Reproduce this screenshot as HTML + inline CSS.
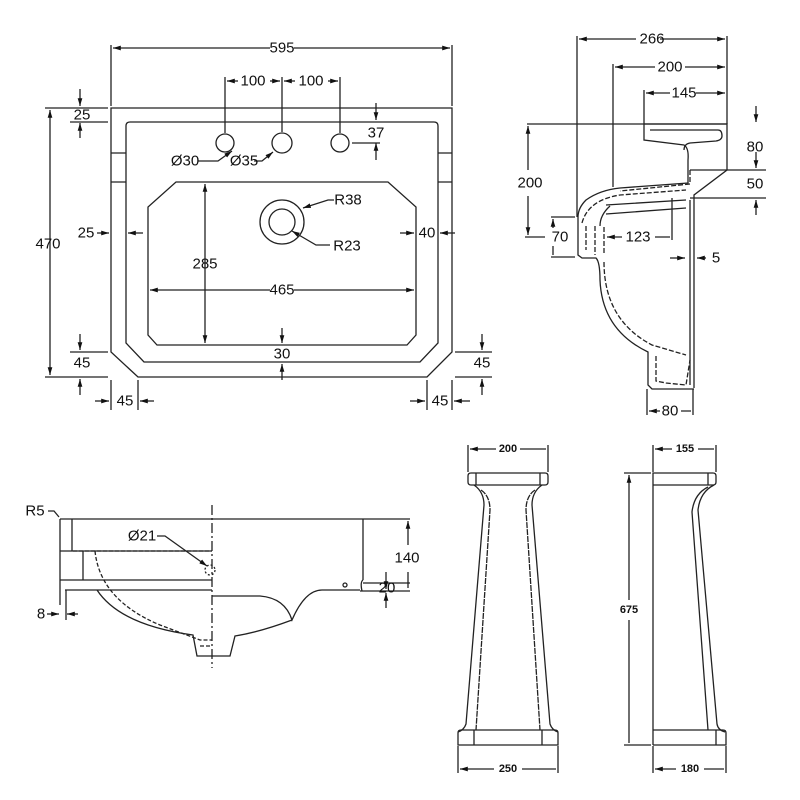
<!DOCTYPE html>
<html><head><style>
html,body{margin:0;padding:0;background:#fff}
svg{display:block}
text{font-family:"Liberation Sans",sans-serif;font-size:15px;fill:#111;text-anchor:middle;dominant-baseline:central}
.s{font-size:11px;font-weight:bold}
</style></head><body>
<svg width="800" height="800" viewBox="0 0 800 800" xmlns="http://www.w3.org/2000/svg">
<defs>
<marker id="a" viewBox="0 0 10 10" refX="10" refY="5" markerWidth="6" markerHeight="6" orient="auto-start-reverse"><path d="M0,2 L10,5 L0,8z" fill="#111"/></marker>
</defs>
<g fill="none" stroke="#222" stroke-width="1.3">
<path d="M111,108 H452 V352 L427,377 H138 L111,352 Z"/>
<path d="M130,122 H434 Q438,122 438,126 V343 L420,362 H144 L126,343 V126 Q126,122 130,122 Z"/>
<path d="M111,153 H126 M111,182 H126 M438,153 H452 M438,182 H452"/>
<path d="M176,182 H388 L416,207 V335 L407,345 H157 L148,335 V207 Z"/>
<circle cx="225" cy="143" r="9"/><circle cx="282" cy="143" r="10"/><circle cx="340" cy="143" r="9"/>
<circle cx="282" cy="222" r="22"/><circle cx="282" cy="222" r="13"/>
<path d="M111,45 V106 M452,45 V106"/>
<path d="M113,48 H270 M294,48 H450" marker-start="url(#a)" marker-end="url(#a)"/>
<path d="M225,77 V133 M282,77 V132 M340,77 V133"/>
<path d="M227,81 H238" marker-start="url(#a)"/>
<path d="M284,81 H295" marker-start="url(#a)"/><path d="M328,81 H338" marker-end="url(#a)"/><path d="M270,81 H280" marker-end="url(#a)"/>
<path d="M376,103 V120" marker-end="url(#a)"/><path d="M376,160 V143" marker-end="url(#a)"/><path d="M352,143 H380"/>
<path d="M232,151 L218,161 H198" marker-start="url(#a)"/>
<path d="M273,152 L262,161 H254" marker-start="url(#a)"/>
<path d="M80,89 V106" marker-end="url(#a)"/><path d="M80,138 V123" marker-end="url(#a)"/>
<path d="M45,108 H108 M70,122 H108"/>
<path d="M50,110 V375" marker-start="url(#a)" marker-end="url(#a)"/>
<path d="M45,377 H108"/>
<path d="M97,233 H109" marker-end="url(#a)"/><path d="M143,233 H128" marker-end="url(#a)"/>
<path d="M400,233 H414" marker-end="url(#a)"/><path d="M455,233 H440" marker-end="url(#a)"/>
<path d="M205,184 V343" marker-start="url(#a)" marker-end="url(#a)"/>
<path d="M150,290 H270 M294,290 H414" marker-start="url(#a)" marker-end="url(#a)"/>
<path d="M282,328 V343" marker-end="url(#a)"/><path d="M282,380 V364" marker-end="url(#a)"/>
<path d="M303,208 L328,200 H334" marker-start="url(#a)"/>
<path d="M292,231 L316,245 H330" marker-start="url(#a)"/>
<path d="M70,352 H108"/><path d="M80,334 V350" marker-end="url(#a)"/><path d="M80,395 V379" marker-end="url(#a)"/>
<path d="M455,352 H492 M455,377 H492"/><path d="M482,334 V350" marker-end="url(#a)"/><path d="M482,395 V379" marker-end="url(#a)"/>
<path d="M111,380 V410 M138,380 V410 M427,380 V410 M452,380 V410"/>
<path d="M95,401 H109" marker-end="url(#a)"/><path d="M154,401 H140" marker-end="url(#a)"/>
<path d="M410,401 H425" marker-end="url(#a)"/><path d="M470,401 H454" marker-end="url(#a)"/>

<path d="M577,36 V217 M613,64 V187 M644,90 V124 M727,36 V124 M527,124 H727 M690,170 H766 M690,198 H766"/>
<path d="M579,39 H636 M660,39 H725" marker-start="url(#a)" marker-end="url(#a)"/>
<path d="M615,67 H655 M685,67 H725" marker-start="url(#a)" marker-end="url(#a)"/>
<path d="M646,93 H670 M696,93 H725" marker-start="url(#a)" marker-end="url(#a)"/>
<path d="M644,124 H727 V170 L694,195 V388 M644,124 V140 L684,145 Q689,148 688,160 V183 L620,188 Q600,190 586,200 Q578,208 578,217 V255 L582,258 H596 Q600,262 600,280 Q602,330 648,352 V385 L652,389 H694"/>
<path d="M650,130 H718 Q722,130 722,136 Q722,140 716,141 L690,143 Q684,144 684,150"/>
<path d="M690,170 V184 L620,191 M582,223 Q588,200 620,195 L686,190 M586,226 V250 M595,226 V255 M604,227 V255 M604,262 Q604,320 652,345 L686,355 M656,356 V381 L666,383 L686,385 L690,360" stroke-dasharray="5,2"/>
<path d="M606,205 L686,200 M606,214 L686,208 M610,206 Q600,215 600,226"/>
<path d="M690,200 V385"/>
<path d="M756,106 V122" marker-end="url(#a)"/><path d="M756,152 V168" marker-end="url(#a)"/>
<path d="M756,215 V200" marker-end="url(#a)"/>
<path d="M528,126 V170" marker-start="url(#a)"/><path d="M528,196 V235" marker-end="url(#a)"/>
<path d="M525,237 H545"/>
<path d="M551,217 H575 M551,257 H575"/>
<path d="M553,219 V228 M553,246 V255" marker-start="url(#a)"/>
<path d="M672,198 V240"/>
<path d="M607,237 H622 M655,237 H670" marker-start="url(#a)"/>
<path d="M670,258 H685" marker-end="url(#a)"/><path d="M706,258 H697" marker-end="url(#a)"/>
<path d="M647,389 V415 M693,389 V415"/>
<path d="M649,411 H660 M681,411 H691" marker-start="url(#a)"/>

<path d="M60,519 H410 M60,519 V605 M72,519 V551 M60,551 H212 M83,551 V580 M60,580 H212 M65,590 H212 M363,519 V580 M363,583 H410 M360,591 H410 M212,596 H260 Q285,598 292,620 Q305,590 322,590 H360 M292,620 Q260,632 235,636 L230,656 H212 M97,590 Q120,625 193,635 L197,656 H212"/>
<path d="M363,580 Q360,582 362,591"/>
<path d="M73,551 H212 M95,551 Q100,600 160,625 L200,640 H212 M200,646 H212" stroke-dasharray="4,2"/>
<path d="M212,505 V668" stroke-dasharray="10,3,2,3"/>
<circle cx="210" cy="570" r="5" stroke-dasharray="2,2"/>
<circle cx="345" cy="585" r="2"/>
<path d="M157,536 H165 L207,566" marker-end="url(#a)"/>
<path d="M48,511 H54 L59,517"/>
<path d="M66,590 V620"/>
<path d="M47,614 H59" marker-end="url(#a)"/><path d="M78,614 H67" marker-end="url(#a)"/>
<path d="M408,521 V545 M408,572 V588" marker-start="url(#a)"/>
<path d="M386,572 V589" marker-end="url(#a)"/><path d="M386,608 V593" marker-end="url(#a)"/>

<path d="M468,476 Q468,473 471,473 H545 Q548,473 548,476 V482 Q548,485 545,485 H471 Q468,485 468,482 Z M476,473 V485 M540,473 V485"/>
<path d="M474,485 Q484,492 484,505 L466,724 Q464,730 458,732 M542,485 Q532,492 532,505 L550,724 Q552,730 558,732"/>
<path d="M481,490 Q490,496 490,510 L476,730 M535,490 Q526,496 526,510 L540,730" stroke-dasharray="6,1"/>
<path d="M458,733 Q458,730 461,730 H555 Q558,730 558,733 V745 H458 Z M474,730 V745 M542,730 V745"/>
<path d="M468,445 V472 M548,445 V472 M458,746 V773 M558,746 V773"/>
<path d="M470,449 H496 M520,449 H546" marker-start="url(#a)"/>
<path d="M460,769 H494 M522,769 H556" marker-start="url(#a)"/>
<path d="M653,473 H713 Q716,473 716,476 V482 Q716,485 713,485 H653 Z M653,473 V745 M708,473 V485"/>
<path d="M714,485 Q700,492 698,510 L717,724 Q718,730 725,732 M708,487 Q694,494 692,512 L708,730"/>
<path d="M653,730 H723 Q726,730 726,733 V745 H653 M716,730 V745"/>
<path d="M653,445 V472 M716,445 V472 M653,746 V773 M726,746 V773"/>
<path d="M655,449 H672 M698,449 H714" marker-start="url(#a)"/>
<path d="M655,769 H676 M704,769 H724" marker-start="url(#a)"/>
<path d="M629,475 V600 M629,620 V743" marker-start="url(#a)"/>
<path d="M624,473 H651 M624,745 H651"/>
</g>
<g>
<text x="282" y="48">595</text>
<text x="253" y="81">100</text>
<text x="311" y="81">100</text>
<text x="376" y="133">37</text>
<text x="185" y="161">Ø30</text>
<text x="244" y="161">Ø35</text>
<text x="82" y="115">25</text>
<text x="48" y="244">470</text>
<text x="86" y="233">25</text>
<text x="427" y="233">40</text>
<text x="205" y="264">285</text>
<text x="282" y="290">465</text>
<text x="282" y="354">30</text>
<text x="348" y="200">R38</text>
<text x="347" y="246">R23</text>
<text x="82" y="363">45</text>
<text x="482" y="363">45</text>
<text x="125" y="401">45</text>
<text x="440" y="401">45</text>
<text x="652" y="39">266</text>
<text x="670" y="67">200</text>
<text x="684" y="93">145</text>
<text x="755" y="147">80</text>
<text x="755" y="184">50</text>
<text x="530" y="183">200</text>
<text x="560" y="237">70</text>
<text x="638" y="237">123</text>
<text x="716" y="258">5</text>
<text x="670" y="411">80</text>
<text x="35" y="511">R5</text>
<text x="142" y="536">Ø21</text>
<text x="407" y="558">140</text>
<text x="387" y="588">20</text>
<text x="41" y="614">8</text>
<text class="s" x="508" y="449">200</text>
<text class="s" x="508" y="769">250</text>
<text class="s" x="685" y="449">155</text>
<text class="s" x="690" y="769">180</text>
<text class="s" x="629" y="610">675</text>
</g>
</svg>
</body></html>
